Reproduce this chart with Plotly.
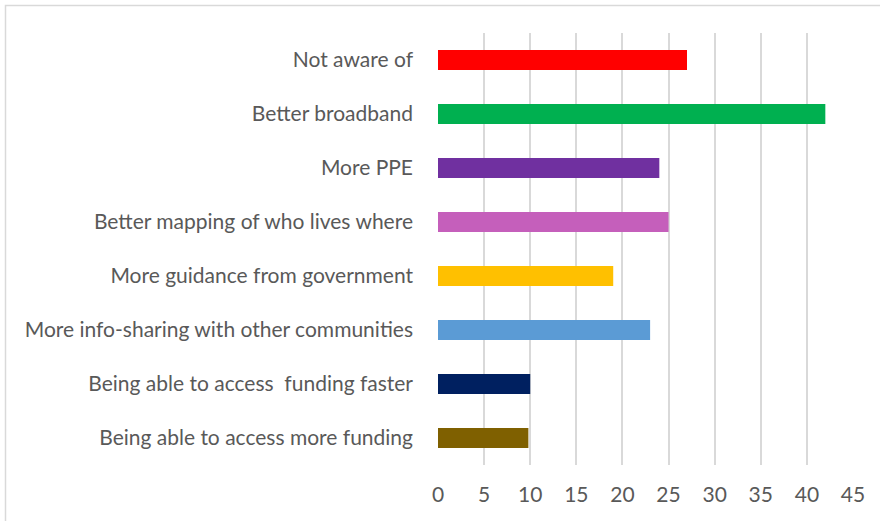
import plotly.graph_objects as go

categories = [
    "Being able to access more funding",
    "Being able to access  funding faster",
    "More info-sharing with other communities",
    "More guidance from government",
    "Better mapping of who lives where",
    "More PPE",
    "Better broadband",
    "Not aware of",
]
values = [9.8, 10, 23, 19, 25, 24, 42, 27]
colors = ["#7F6000", "#002060", "#5B9BD5", "#FFC000", "#C55FBB", "#7030A0", "#00B050", "#FF0000"]
x_ticks = [0, 5, 10, 15, 20, 25, 30, 35, 40, 45]

W, H = 880, 521
L, R, T, B = 438, 27, 33, 56

fig = go.Figure(go.Bar(
    y=categories, x=values, orientation="h",
    marker=dict(color=colors, line=dict(width=0)),
    hoverinfo="x+y",
))

def px_x(p):
    return (p - L) / (W - L - R)

def px_y(p):
    return 1 - (p - T) / (H - T - B)

fig.update_layout(
    width=W, height=H,
    margin=dict(l=L, r=R, t=T, b=B, pad=0),
    paper_bgcolor="white", plot_bgcolor="white",
    bargap=0.63,
    showlegend=False,
    font=dict(family="Lato, 'Open Sans', sans-serif", size=21, color="#595959"),
    xaxis=dict(
        range=[0, 45], tickvals=x_ticks, showgrid=True, gridcolor="#D9D9D9", gridwidth=1.5,
        zeroline=False, showline=False, ticks="", ticklabelstandoff=15,
        tickfont=dict(size=21, color="#595959"), fixedrange=True,
    ),
    yaxis=dict(
        showgrid=False, zeroline=False, showline=False, ticks="",
        ticklabelstandoff=24, tickfont=dict(size=21, color="#595959"),
        categoryorder="array", categoryarray=categories, fixedrange=True,
    ),
    shapes=[dict(
        type="rect", xref="paper", yref="paper",
        x0=px_x(5.5), x1=px_x(890), y0=px_y(530), y1=px_y(5.5),
        line=dict(color="#D9D9D9", width=1.5), fillcolor="rgba(0,0,0,0)", layer="below",
    )],
)

fig.write_html("out.html")
